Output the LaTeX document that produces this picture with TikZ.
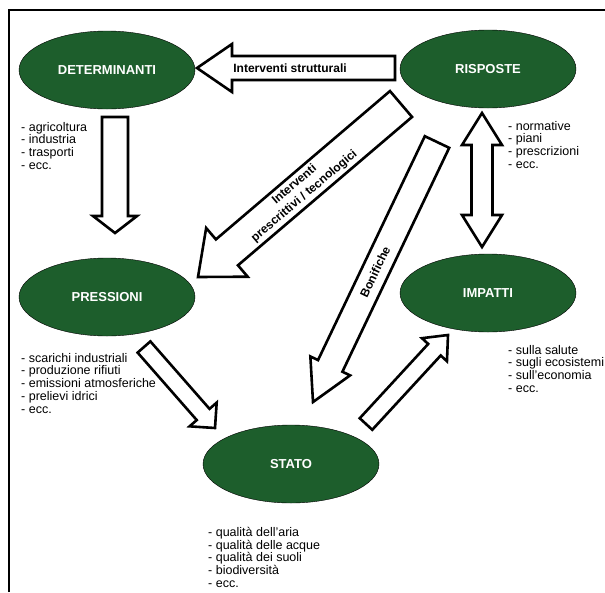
\documentclass[tikz,border=0pt]{standalone}
\usepackage{fontspec}
\setmainfont{Liberation Sans}
\usetikzlibrary{shapes.geometric,calc,shadows}

\definecolor{dpsirgreen}{HTML}{1D5E2C}

% block arrow: tail, tip, half shaft, half head, head length
\newcommand{\blockarrow}[5]{%
  \coordinate (hb) at ($(#2)!#5!(#1)$);
  \draw[bigarrow] ($(#1)!#3!90:(#2)$) -- ($(hb)!#3!90:(#2)$) -- ($(hb)!#4!90:(#2)$) -- (#2)
    -- ($(hb)!#4!-90:(#2)$) -- ($(hb)!#3!-90:(#2)$) -- ($(#1)!#3!-90:(#2)$) -- cycle;
}
% same with a head at both ends
\newcommand{\doublearrow}[5]{%
  \coordinate (hb1) at ($(#2)!#5!(#1)$);
  \coordinate (hb2) at ($(#1)!#5!(#2)$);
  \draw[bigarrow] (#1) -- ($(hb2)!#4!90:(#2)$) -- ($(hb2)!#3!90:(#2)$) -- ($(hb1)!#3!90:(#2)$)
    -- ($(hb1)!#4!90:(#2)$) -- (#2) -- ($(hb1)!#4!-90:(#2)$) -- ($(hb1)!#3!-90:(#2)$)
    -- ($(hb2)!#3!-90:(#2)$) -- ($(hb2)!#4!-90:(#2)$) -- cycle;
}

\begin{document}
\begin{tikzpicture}[x=1pt, y=-1pt,
        stadio/.style={ellipse, draw=black, thin, fill=dpsirgreen, text=white,
          font=\bfseries\fontsize{13}{15}\selectfont,
          minimum width=176pt, minimum height=78pt, inner sep=0pt},
        elenco/.style={anchor=north west, align=left, inner sep=0pt,
          font=\fontsize{12.5}{12.7}\selectfont},
        bigarrow/.style={draw=black, fill=white, line width=2.6pt, line join=miter,
          drop shadow={shadow xshift=1pt, shadow yshift=-1pt, opacity=0.3}},
        freccialabel/.style={font=\bfseries\fontsize{12}{15}\selectfont, align=center, inner sep=0pt},
        ]
        \useasboundingbox (0,0) rectangle (605,592);
        \draw[line width=1.5pt] (9,592) -- (9,10) -- (605,10);

        % Nodes
        \node[stadio] (det) at (107,70) {DETERMINANTI};
        \node[stadio] (ris) at (488,69) {RISPOSTE};
        \node[stadio] (pre) at (107,297) {PRESSIONI};
        \node[stadio] (imp) at (488,293) {IMPATTI};
        \node[stadio] (sta) at (291,464) {STATO};

        % Lists
        \node[elenco] (detlist) at (21,122) {- agricoltura\\- industria\\- trasporti\\- ecc.};
        \node[elenco] (rislist) at (508,121) {- normative\\- piani\\- prescrizioni\\- ecc.};
        \node[elenco] (prelist) at (21,353) {- scarichi industriali\\- produzione rifiuti\\- emissioni atmosferiche\\- prelievi idrici\\- ecc.};
        \node[elenco] (implist) at (508,345) {- sulla salute\\- sugli ecosistemi\\- sull'economia\\- ecc.};
        \node[elenco] (stalist) at (208,527) {- qualità dell'aria\\- qualità delle acque\\- qualità dei suoli\\- biodiversità\\- ecc.};

        % Arrow ends
        \coordinate (r2d-s) at (395,68);  \coordinate (r2d-e) at (197,68);
        \coordinate (d2p-s) at (115,117); \coordinate (d2p-e) at (115,233);
        \coordinate (r2i-s) at (482,113); \coordinate (r2i-e) at (482,247);
        \coordinate (r2p-s) at (401,104); \coordinate (r2p-e) at (198,277);
        \coordinate (r2s-s) at (437,142); \coordinate (r2s-e) at (313,402);
        \coordinate (p2s-s) at (144,347); \coordinate (p2s-e) at (215,428);
        \coordinate (s2i-s) at (366,424); \coordinate (s2i-e) at (448,335);

        % Risposte acts on the others
        \blockarrow{r2d-s}{r2d-e}{12pt}{24pt}{35pt}
        \blockarrow{r2p-s}{r2p-e}{17pt}{32pt}{38pt}
        \blockarrow{r2s-s}{r2s-e}{13.5pt}{22pt}{40pt}
        \doublearrow{r2i-s}{r2i-e}{10.5pt}{20pt}{32pt}

        % the chain
        \blockarrow{d2p-s}{d2p-e}{13pt}{22pt}{17pt}
        \blockarrow{p2s-s}{p2s-e}{8.5pt}{18pt}{18pt}
        \blockarrow{s2i-s}{s2i-e}{8.5pt}{17pt}{20pt}

        % Labels on the arrows
        \path (r2d-s) -- node[freccialabel, pos=0.53] (strut) {Interventi strutturali} (r2d-e);
        \path (r2p-e) -- node[freccialabel, sloped, pos=0.5] (presc) {Interventi\\prescrittivi / tecnologici} (r2p-s);
        \path (r2s-e) -- node[freccialabel, sloped, pos=0.5] (bonif) {Bonifiche} (r2s-s);

    \end{tikzpicture}
\end{document}
